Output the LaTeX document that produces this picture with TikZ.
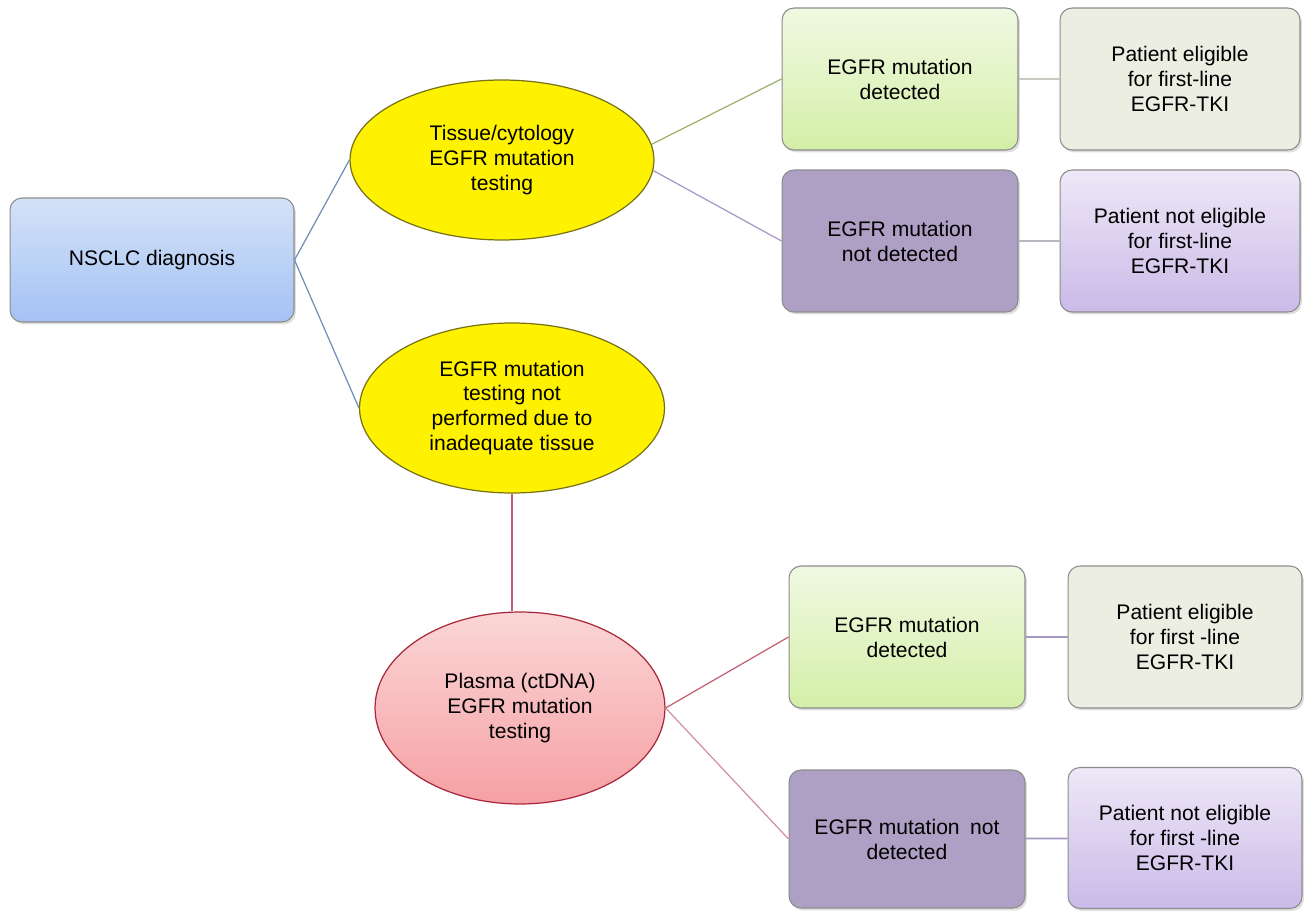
\documentclass[tikz,border=0pt]{standalone}
\usepackage{fontspec}
\setmainfont{Liberation Sans}
\usetikzlibrary{shapes.geometric,shadows}
\definecolor{boxline}{HTML}{8C8C8C}
\definecolor{blueline}{HTML}{6F8FB8}
\definecolor{greenline}{HTML}{9BB06A}
\definecolor{lilacline}{HTML}{A596C4}
\definecolor{redline}{HTML}{C06070}
\definecolor{greyline}{HTML}{C8CCC0}
\begin{document}
\begin{tikzpicture}[x=0.02cm, y=-0.02cm,
  every node/.style={font=\fontsize{12}{14.2}\selectfont, align=center, text=black},
  box/.style={rectangle, rounded corners=0.24cm, draw=boxline, line width=0.6pt,
    minimum width=4.72cm, minimum height=2.84cm, drop shadow={shadow xshift=0.04cm, shadow yshift=-0.05cm, opacity=0.25}},
  oval/.style={ellipse, inner sep=0pt, line width=0.7pt}]
\useasboundingbox (0,0) rectangle (1305,915);
% start
\node[box, minimum width=5.68cm, minimum height=2.48cm, top color={rgb,255:red,212;green,226;blue,248}, bottom color={rgb,255:red,164;green,194;blue,244}] (nsclc) at (152,260) {NSCLC diagnosis};
% tests
\node[oval, fill=yellow, draw=olive!80!black, minimum width=6.08cm, minimum height=3.2cm] (tissue) at (502,160) {Tissue/cytology\\EGFR mutation\\testing};
\node[oval, fill=yellow, draw=olive!80!black, minimum width=6.1cm, minimum height=3.4cm] (notdone) at (512,408) {EGFR mutation\\testing not\\performed due to\\inadequate tissue};
\node[oval, draw={rgb,255:red,170;green,40;blue,60}, top color={rgb,255:red,251;green,214;blue,214}, bottom color={rgb,255:red,245;green,160;blue,164}, minimum width=5.8cm, minimum height=3.84cm] (plasma) at (520,708) {Plasma (ctDNA)\\EGFR mutation\\testing};
% tissue results
\node[box, top color={rgb,255:red,240;green,249;blue,226}, bottom color={rgb,255:red,212;green,239;blue,168}] (tpos) at (900,79) {EGFR mutation\\detected};
\node[box, fill={rgb,255:red,173;green,160;blue,196}] (tneg) at (900,241) {EGFR mutation\\not detected};
\node[box, minimum width=4.8cm, fill={rgb,255:red,237;green,238;blue,226}] (telig) at (1180,79) {Patient eligible\\for first-line\\EGFR-TKI};
\node[box, minimum width=4.8cm, top color={rgb,255:red,238;green,232;blue,247}, bottom color={rgb,255:red,202;green,186;blue,232}] (tnot) at (1180,241) {Patient not eligible\\for first-line\\EGFR-TKI};
% plasma results
\node[box, top color={rgb,255:red,240;green,249;blue,226}, bottom color={rgb,255:red,212;green,239;blue,168}] (ppos) at (907,637) {EGFR mutation\\detected};
\node[box, minimum height=2.76cm, fill={rgb,255:red,173;green,160;blue,196}] (pneg) at (907,839) {EGFR mutation\enspace not\\detected};
\node[box, minimum width=4.68cm, fill={rgb,255:red,237;green,238;blue,226}] (pelig) at (1185,637) {Patient eligible\\for first -line\\EGFR-TKI};
\node[box, minimum width=4.68cm, minimum height=2.82cm, top color={rgb,255:red,238;green,232;blue,247}, bottom color={rgb,255:red,202;green,186;blue,232}] (pnot) at (1185,838) {Patient not eligible\\for first -line\\EGFR-TKI};
% connectors
\draw[blueline, line width=0.7pt] (nsclc.east) -- (tissue.west);
\draw[blueline, line width=0.7pt] (nsclc.east) -- (notdone.west);
\draw[greenline, line width=0.7pt] (tissue.6) -- (tpos.west);
\draw[lilacline, line width=0.7pt] (tissue.-4) -- (tneg.west);
\draw[greyline, line width=0.9pt] (tpos) -- (telig);
\draw[greyline!60!lilacline, line width=0.9pt] (tneg) -- (tnot);
\draw[redline, line width=0.7pt] (notdone.south) -- (notdone.south |- plasma.north);
\draw[redline, line width=0.7pt] (plasma.east) -- (ppos.west);
\draw[redline!70!white, line width=0.7pt] (plasma.east) -- (pneg.west);
\draw[lilacline, line width=1pt] (ppos) -- (pelig);
\draw[lilacline, line width=1pt] (pneg) -- (pnot);
\end{tikzpicture}
\end{document}
